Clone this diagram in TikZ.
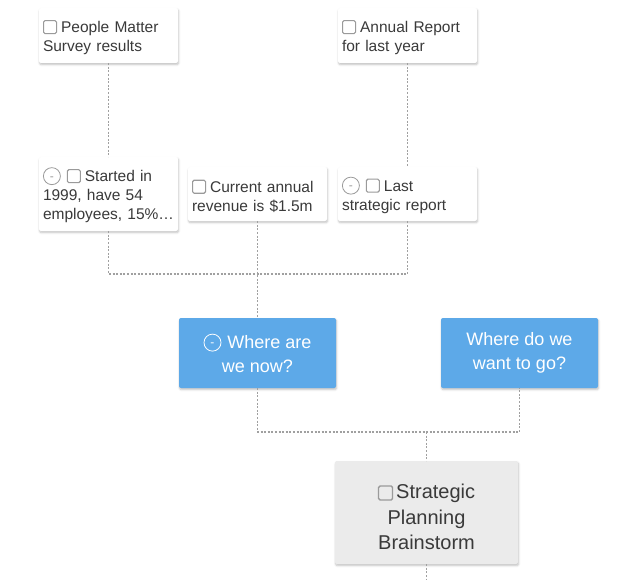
\documentclass[tikz,border=0pt]{standalone}
\usepackage{fontspec}
\setmainfont{Liberation Sans}
\usetikzlibrary{shadows.blur}
\definecolor{txt}{HTML}{3A3A3A}
\definecolor{cbgray}{HTML}{9A9A9A}
\definecolor{blueb}{HTML}{5DA9E8}
\definecolor{grayb}{HTML}{EBEBEB}
\definecolor{linec}{HTML}{A0A0A0}
\newcommand{\cbox}{\tikz[baseline=0pt]\draw[rounded corners=1.5pt,cbgray,line width=1.1pt] (0,-1pt) rectangle (13pt,12pt);\hspace{4pt}}
\newcommand{\cboxbig}{\tikz[baseline=0pt]\draw[rounded corners=1.5pt,cbgray,line width=1.4pt] (0,-1.5pt) rectangle (14pt,12.5pt);\hspace{3pt}}
\newcommand{\cminus}[1]{\tikz[baseline=-5.5pt]\draw[#1,line width=0.8pt] (0,0) circle (8.5pt);\llap{\makebox[17.8pt][c]{\raisebox{1.5pt}{\color{#1}\fontsize{12}{12}\selectfont -}}}\hspace{6pt}}
\tikzset{
  card/.style={rectangle, fill=white, rounded corners=2pt, text=txt,
    minimum width=139pt, text width=131pt, inner xsep=4pt, inner ysep=0pt,
    align=left, font=\fontsize{15.5}{19}\selectfont, text height=16.5pt,
    blur shadow={shadow xshift=0.6pt, shadow yshift=-1.6pt, shadow blur radius=2pt, shadow opacity=25}},
  bluecard/.style={rectangle, fill=blueb, rounded corners=2pt, text=white,
    minimum width=157pt, minimum height=70pt, align=center, inner sep=0pt,
    font=\fontsize{18}{24}\selectfont,
    blur shadow={shadow xshift=0.6pt, shadow yshift=-1.6pt, shadow blur radius=2pt, shadow opacity=25}},
  graycard/.style={rectangle, fill=grayb, rounded corners=2pt, text=txt,
    minimum width=183pt, minimum height=103pt, align=center, inner sep=0pt,
    font=\fontsize{20}{25.5}\selectfont, text height=74pt, text depth=0pt,
    blur shadow={shadow xshift=0.6pt, shadow yshift=-1.6pt, shadow blur radius=2pt, shadow opacity=25}},
  link/.style={draw=linec, line width=1.3pt, dash pattern=on 2pt off 1.6pt}
}
\begin{document}
\begin{tikzpicture}[x=1pt,y=-1pt]
\useasboundingbox (0,0) rectangle (636,580);
% top row
\node[card, minimum height=55pt] (pm) at (108.5,35.5) {\cbox People Matter\\Survey results};
\node[card, minimum height=55pt] (ar) at (407.5,35.5) {\cbox Annual Report\\for last year};
% middle row
\node[card, minimum height=74pt] (st) at (108.5,194) {\cminus{cbgray}\cbox Started in\\1999, have 54\\employees, 15\%…};
\node[card, minimum height=54pt] (cr) at (257.5,194) {\cbox Current annual\\revenue is \$1.5m};
\node[card, minimum height=54pt] (ls) at (407.5,194) {\cminus{cbgray}\cbox Last\\strategic report};
% blue row
\node[bluecard] (wn) at (257.5,353) {\cminus{white}Where are\\we now?};
\node[bluecard] (wg) at (519.5,353) {Where do we\\want to go?};
% bottom
\node[graycard] (sp) at (426.5,512.5) {\cboxbig Strategic\\Planning\\Brainstorm};
% connectors
\coordinate (j1) at (257.5,274);
\coordinate (j2) at (426.5,432);
\coordinate (bot) at (426.5,580);
\draw[link] (pm.south) -- (st.north);
\draw[link] (ar.south) -- (ls.north);
\draw[link] (st.south) |- (j1) -| (ls.south);
\draw[link] (cr.south) -- (wn.north);
\draw[link] (wn.south) |- (j2) -| (wg.south);
\draw[link] (j2) -- (sp.north);
\draw[link] (sp.south) -- (bot);
\end{tikzpicture}
\end{document}
